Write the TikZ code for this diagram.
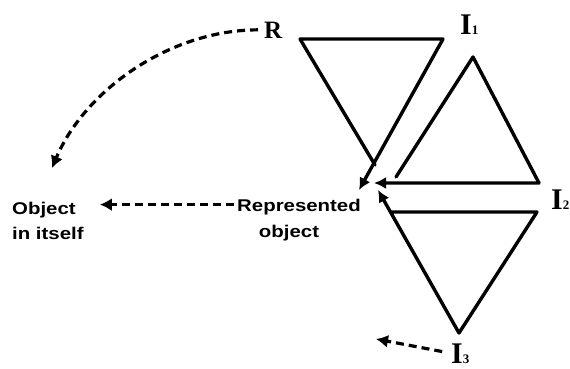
\documentclass[tikz,border=0pt]{standalone}
\usepackage{fontspec}
\usetikzlibrary{arrows.meta}
\newfontfamily\lblsans{Liberation Sans}
\newfontfamily\lblserif{Liberation Serif}
\newcommand{\idx}[1]{{\fontsize{13}{13}\selectfont #1}}
\begin{document}
\begin{tikzpicture}[x=1pt,y=-1pt,
  tri/.style={line width=3.4pt,line join=round,line cap=round},
  triarrow/.style={tri,-{Latex[length=12pt,width=12pt]}},
  dasharrow/.style={line width=3.2pt,dash pattern=on 8pt off 5pt,-{Latex[length=12pt,width=13pt]}},
  sanslbl/.style={inner sep=0pt,anchor=base,font=\lblsans\bfseries\fontsize{17}{19}\selectfont},
  seriflbl/.style={inner sep=0pt,anchor=base west,font=\lblserif\bfseries\fontsize{30}{32}\selectfont}]
\useasboundingbox (0,0) rectangle (570,369);
\fill[white] (0,0) rectangle (570,369);

% labels
\node[seriflbl,font=\lblserif\bfseries\fontsize{25}{27}\selectfont] (R) at (264,38) {R};
\node[seriflbl] (I1) at (460,35) {I\idx{1}};
\node[seriflbl] (I2) at (551,209) {I\idx{2}};
\node[seriflbl] (I3) at (451,363) {I\idx{3}};
\node[sanslbl] (repA) at (299,211) {\scalebox{1.2}[1]{Represented}};
\node[sanslbl] (repB) at (289,237) {\scalebox{1.2}[1]{object}};
\node[sanslbl,anchor=base west] (objA) at (12,214) {\scalebox{1.2}[1]{Object}};
\node[sanslbl,anchor=base west] (objB) at (12,239) {\scalebox{1.2}[1]{in itself}};

% triangle vertices
\coordinate (t1a) at (300,39);
\coordinate (t1b) at (443,39);
\coordinate (t1c) at (375,165);
\coordinate (tip1) at (359,190);

\coordinate (t2l) at (396,177);
\coordinate (t2a) at (473,57);
\coordinate (t2r) at (539,183);
\coordinate (tip2) at (374,183);

\coordinate (t3l) at (391,212);
\coordinate (t3r) at (537,212);
\coordinate (t3a) at (459,333);
\coordinate (tip3) at (378,190);

\coordinate (objtarget) at (52,168);
\coordinate (i3target) at (376,339);

% triangles with arrowed sides
\draw[triarrow] (t1c) -- (t1a) -- (t1b) -- (tip1);
\draw[triarrow] (t2l) -- (t2a) -- (t2r) -- (tip2);
\draw[triarrow] (t3l) -- (t3r) -- (t3a) -- (tip3);

% dashed arrows
\draw[dasharrow,shorten <=6pt] (R.west) .. controls (170,30) and (85,90) .. (objtarget);
\draw[dasharrow,shorten <=3pt,shorten >=24pt] ([yshift=2pt]repA.west) -- ([yshift=2pt]repA.west -| objA.east);
\draw[dasharrow,shorten <=9pt] (I3.west) -- (i3target);
\end{tikzpicture}
\end{document}
